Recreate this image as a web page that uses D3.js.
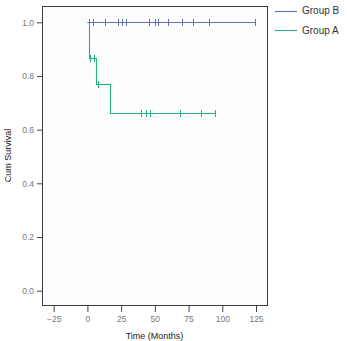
<!DOCTYPE html>
<html>
<head>
<meta charset="utf-8">
<script src="https://cdn.jsdelivr.net/npm/d3@7"></script>
<style>
  body { margin: 0; background: #fff; }
  text { font-family: "Liberation Sans", Arial, sans-serif; }
</style>
</head>
<body>
<div id="chart"></div>
<script>
// Kaplan-Meier style survival curves, two groups

const W = 347;
const H = 341;

const X_TICKS = [-25, 0, 25, 50, 75, 100, 125];
const Y_TICKS = [0.0, 0.2, 0.4, 0.6, 0.8, 1.0];

const GROUPS = ["Group B", "Group A"];
const COLORS = ["#5f70b6", "#27b07a"];

// step points: [time, survival after this time]
const stepsB = [[0, 1.0], [124.5, 1.0]];
const stepsA = [[0, 1.0], [1, 0.867], [6, 0.771], [17, 0.661], [94.7, 0.661]];

// censored observations (time in months)
const censorB = [1.5, 4.5, 13, 23, 25.5, 28.7, 46, 50.2, 52.7, 60.1, 70, 78.2, 90.4, 124.5];
const censorA = [2, 4.6, 7.8, 39.8, 43.3, 46.7, 69, 84.1, 94.7];

const svg = d3.select("#chart").append("svg")
  .attr("width", W)
  .attr("height", H);

const frame = { left: 42, right: 267, top: 6, bottom: 305 };

const x = d3.scaleLinear().domain([-25, 125]).range([53.7, 256]);
const y = d3.scaleLinear().domain([0, 1]).range([290.7, 22.3]);

// plot frame
svg.append("rect")
  .attr("x", frame.left + 0.5)
  .attr("y", frame.top + 0.5)
  .attr("width", frame.right - frame.left)
  .attr("height", frame.bottom - frame.top)
  .attr("fill", "#fdfdfd")
  .attr("stroke", "#3a3a3a")
  .attr("stroke-width", 1);

// y axis
const yAxis = svg.append("g")
  .attr("transform", `translate(${frame.left},0)`)
  .call(d3.axisLeft(y).tickValues(Y_TICKS).tickFormat(d3.format(".1f")).tickSize(5).tickPadding(3));
yAxis.select(".domain").remove();
yAxis.selectAll("line").attr("stroke", "#444");
yAxis.selectAll("text").attr("fill", "#777").attr("font-size", 8.5).style("font-family", "Liberation Sans, Arial, sans-serif");

// x axis
const xAxis = svg.append("g")
  .attr("transform", `translate(0,${frame.bottom + 1})`)
  .call(d3.axisBottom(x).tickValues(X_TICKS).tickFormat(d => d < 0 ? "\u221225" : d).tickSize(6).tickPadding(4));
xAxis.select(".domain").remove();
xAxis.selectAll("line").attr("stroke", "#444");
xAxis.selectAll("text").attr("fill", "#777").attr("font-size", 8.5).style("font-family", "Liberation Sans, Arial, sans-serif");

// axis titles
svg.append("text")
  .attr("x", (frame.left + frame.right) / 2)
  .attr("y", 339)
  .attr("text-anchor", "middle")
  .attr("font-size", 9)
  .attr("fill", "#222")
  .text("Time (Months)");

svg.append("text")
  .attr("transform", `translate(11,${(frame.top + frame.bottom) / 2}) rotate(-90)`)
  .attr("text-anchor", "middle")
  .attr("font-size", 9)
  .attr("fill", "#222")
  .text("Cum Survival");

// survival step lines
const line = d3.line()
  .x(d => Math.round(x(d[0])) + 0.5)
  .y(d => Math.round(y(d[1])) + 0.5)
  .curve(d3.curveStepAfter);

const series = [
  { steps: stepsB, censor: censorB, color: COLORS[0] },
  { steps: stepsA, censor: censorA, color: COLORS[1] }
];

function survAt(steps, t) {
  let s = steps[0][1];
  steps.forEach(p => { if (p[0] <= t) s = p[1]; });
  return s;
}

series.forEach(s => {
  svg.append("path")
    .datum(s.steps)
    .attr("fill", "none")
    .attr("stroke", s.color)
    .attr("stroke-width", 1.1)
    .attr("d", line);

  svg.append("g").selectAll("line")
    .data(s.censor)
    .enter()
    .append("line")
    .attr("x1", d => Math.round(x(d)) + 0.5)
    .attr("x2", d => Math.round(x(d)) + 0.5)
    .attr("y1", d => Math.round(y(survAt(s.steps, d))) + 0.5 - 3.5)
    .attr("y2", d => Math.round(y(survAt(s.steps, d))) + 0.5 + 3.5)
    .attr("stroke", s.color)
    .attr("stroke-width", 1);
});

// legend
const legend = svg.append("g");
GROUPS.forEach((g, i) => {
  const ly = 10.5 + i * 19.5;
  legend.append("line")
    .attr("x1", 275).attr("x2", 297)
    .attr("y1", Math.round(ly) + 0.5).attr("y2", Math.round(ly) + 0.5)
    .attr("stroke", COLORS[i])
    .attr("stroke-width", 1.1);
  legend.append("text")
    .attr("x", 302)
    .attr("y", ly)
    .attr("dy", "0.35em")
    .attr("font-size", 10)
    .attr("fill", "#333")
    .text(g);
});
</script>
</body>
</html>
